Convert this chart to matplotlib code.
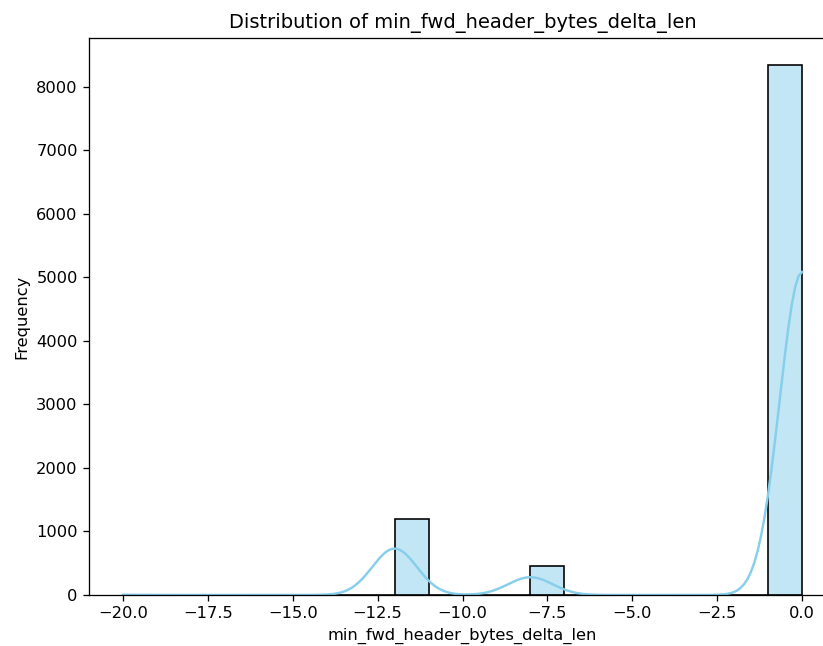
import numpy as np
import pandas as pd
import seaborn as sns
import matplotlib
matplotlib.use("Agg")
import matplotlib.pyplot as plt

# distinct values of the column and how often each one occurs
col = "min_fwd_header_bytes_delta_len"
values = [-20, -12, -8, 0]
counts = [5, 1200, 460, 8350]

df = pd.DataFrame({col: np.repeat(values, counts)})

DPI = 117
fig = plt.figure(figsize=(823 / DPI, 646 / DPI), dpi=DPI)
# the right side of the axes runs past the edge of the picture, as in the reference
ax = fig.add_axes([89 / 823, 51 / 646, 747 / 823, 557 / 646])

sns.histplot(df[col], bins=20, kde=True, color="skyblue", edgecolor="black", ax=ax)
ax.set_title(f"Distribution of {col}")
ax.set_xlabel(col)
ax.set_ylabel("Frequency")
ax.spines["right"].set_visible(False)

fig.savefig("out.png", dpi=DPI)
